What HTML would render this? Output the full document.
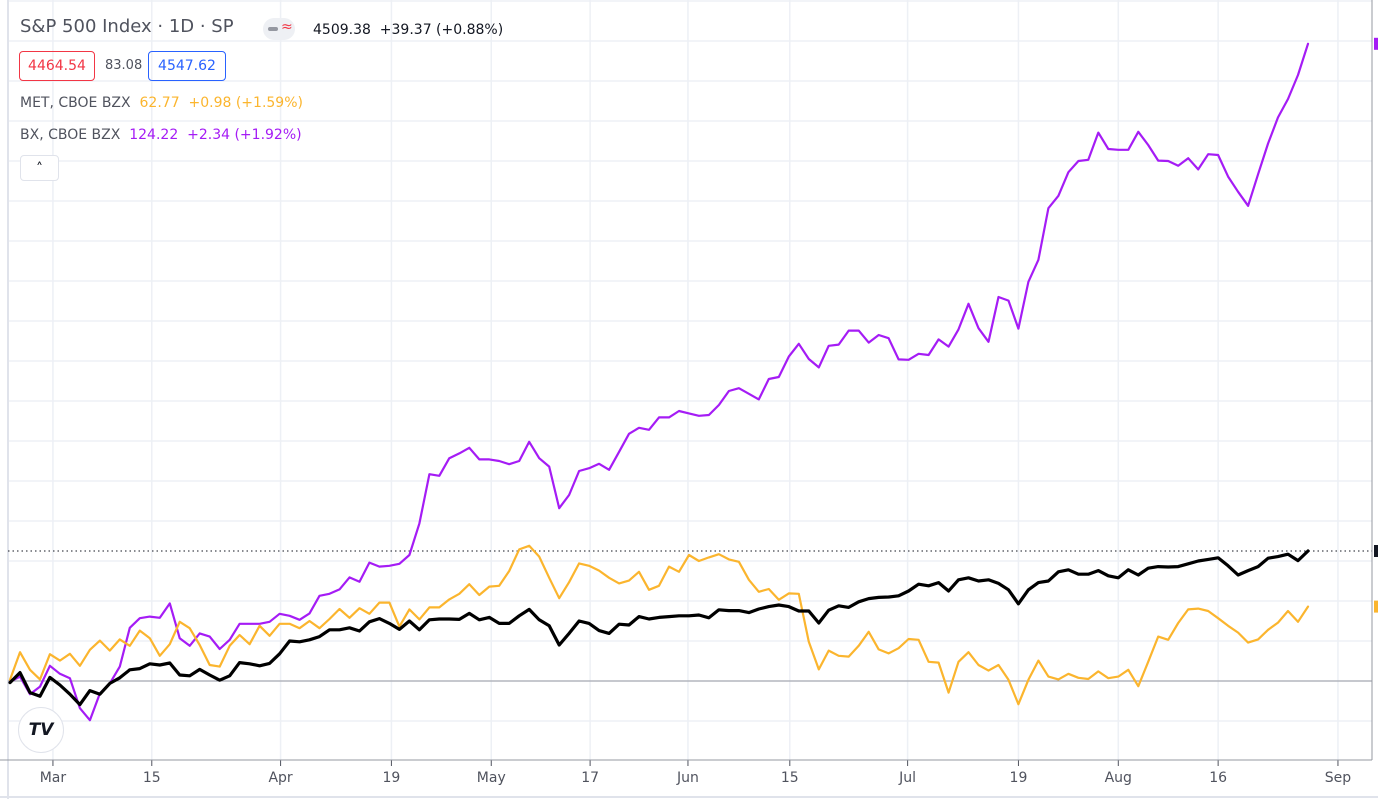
<!DOCTYPE html>
<html><head><meta charset="utf-8">
<style>
html,body{margin:0;padding:0;background:#fff;}
body{width:1378px;height:799px;overflow:hidden;position:relative;font-family:"DejaVu Sans","Liberation Sans",sans-serif;}
#chart{position:absolute;left:0;top:0;}
.legend{position:absolute;left:20px;color:#50535e;white-space:nowrap;}
</style></head>
<body>
<svg id="chart" width="1378" height="799"></svg>

<div class="legend" style="top:16px;font-size:18px;color:#50535e">S&amp;P 500 Index · 1D · SP</div>
<div style="position:absolute;left:263px;top:18px;width:32px;height:22px;border-radius:11px;background:#eef0f4">
  <div style="position:absolute;left:5px;top:9px;width:10px;height:4px;border-radius:2px;background:#9598a1"></div>
  <div style="position:absolute;left:18px;top:1px;font-size:14px;color:#f23645">≈</div>
</div>
<div style="position:absolute;left:313px;top:22px;font-size:14px;color:#131722;white-space:nowrap">4509.38&nbsp; +39.37 (+0.88%)</div>

<div style="position:absolute;left:19px;top:51px;width:74px;height:28px;border:1px solid #f23645;border-radius:4px;color:#f23645;font-size:14px;line-height:28px;text-align:center">4464.54</div>
<div style="position:absolute;left:105px;top:58px;font-size:13px;color:#50535e">83.08</div>
<div style="position:absolute;left:148px;top:51px;width:76px;height:28px;border:1px solid #2962ff;border-radius:4px;color:#2962ff;font-size:14px;line-height:28px;text-align:center">4547.62</div>

<div class="legend" style="top:95px;font-size:14px">MET, CBOE BZX&nbsp; <span style="color:#fbb52e">62.77&nbsp; +0.98 (+1.59%)</span></div>
<div class="legend" style="top:127px;font-size:14px">BX, CBOE BZX&nbsp; <span style="color:#a51cf5">124.22&nbsp; +2.34 (+1.92%)</span></div>
<div style="position:absolute;left:20px;top:155px;width:37px;height:24px;border:1px solid #e0e3eb;border-radius:4px;background:#fff;text-align:center;font-size:14px;line-height:26px;color:#131722">˄</div>

<div style="position:absolute;left:18px;top:707px;width:44px;height:44px;border-radius:50%;border:1px solid #e0e3eb;background:#fff;font-size:17px;font-weight:bold;line-height:44px;text-align:center;color:#131722;font-style:italic">TV</div>

<script>
const categoriesTickLabels = ["Mar","15","Apr","19","May","17","Jun","15","Jul","19","Aug","16","Sep"];
const tickIndex = [4.3,14.2,27.1,38.2,48.2,58.1,67.9,78.1,89.9,101.0,111.0,121.0,133.0];
const spxValues = [-0.4,2.1,-2.9,-3.8,0.9,-1.0,-3.3,-5.9,-2.4,-3.3,-0.6,0.8,2.8,3.1,4.3,4.0,4.5,1.5,1.3,2.9,1.5,0.2,1.3,4.6,4.3,3.8,4.4,6.8,10.0,9.8,10.3,11.1,12.8,12.8,13.3,12.5,14.8,15.6,14.4,12.9,15.0,12.8,15.3,15.5,15.5,15.4,16.9,15.3,15.9,14.4,14.4,16.3,17.9,15.3,13.8,9.0,11.9,15.0,14.4,12.6,11.9,14.2,14.0,16.1,15.5,15.9,16.1,16.3,16.3,16.5,15.8,17.8,17.6,17.6,17.1,18.0,18.6,19.0,18.6,17.5,17.5,14.5,17.7,18.8,18.4,19.8,20.6,20.9,21.0,21.3,22.5,24.2,23.8,24.6,22.5,25.3,25.8,25.0,25.3,24.4,22.8,19.3,22.8,24.6,25.0,27.3,27.8,26.7,26.7,27.6,26.3,25.8,27.8,26.5,28.2,28.6,28.5,28.6,29.3,30.0,30.4,30.8,28.8,26.5,27.6,28.6,30.7,31.1,31.7,30.1,32.5];
const metValues = [0.3,7.2,2.8,0.4,6.7,5.1,6.8,3.8,7.8,10.1,7.6,10.4,8.8,12.6,10.7,6.3,9.2,14.8,13.2,9.0,4.0,3.6,8.8,11.5,9.2,13.8,11.3,14.3,14.3,13.2,15.0,13.2,15.5,18.0,15.8,18.2,16.8,19.6,19.6,13.6,17.9,15.4,18.4,18.4,20.4,21.8,24.2,21.5,23.6,23.8,27.5,32.9,33.8,31.1,25.8,20.7,24.7,29.4,28.8,27.6,25.8,24.4,25.1,27.3,22.8,23.8,28.6,27.3,31.5,30.0,30.9,31.7,30.4,29.8,25.3,22.3,23.0,20.3,21.9,21.8,9.8,2.9,7.6,6.3,6.1,8.8,12.3,7.9,6.9,8.2,10.5,10.3,4.8,4.6,-2.9,4.8,7.2,4.0,2.6,4.0,0.3,-5.8,0.3,5.1,1.1,0.4,1.8,0.8,0.5,2.4,0.7,1.1,2.8,-1.3,4.8,11.1,10.3,14.5,17.9,18.1,17.5,15.7,13.8,12.1,9.6,10.4,12.8,14.6,17.5,14.8,18.6];
const bxValues = [-0.2,1.1,-3.3,-1.4,3.8,1.8,0.7,-6.8,-9.8,-3.1,-0.6,3.6,13.3,15.7,16.1,15.8,19.4,10.7,8.8,11.9,11.1,8.0,10.3,14.3,14.3,14.3,14.8,16.8,16.3,15.3,16.9,21.3,21.8,22.9,25.9,24.8,29.6,28.6,28.8,29.3,31.5,39.4,51.7,51.3,55.7,56.9,58.3,55.4,55.4,55.0,54.2,55.0,59.8,55.7,53.6,43.2,46.5,52.5,53.2,54.3,52.8,57.3,61.8,63.3,62.8,65.9,65.9,67.5,66.9,66.3,66.5,69.0,72.5,73.2,71.8,70.4,75.5,76.0,81.1,84.3,80.5,78.4,83.8,84.1,87.6,87.6,84.6,86.5,85.7,80.4,80.3,81.8,81.5,85.4,83.6,87.9,94.3,88.2,84.8,96.0,95.1,88.1,99.8,105.3,118.2,121.3,127.2,130.0,130.3,137.1,133.0,132.8,132.8,137.3,134.0,130.1,130.0,128.8,130.7,127.9,131.7,131.5,126.1,122.3,118.8,126.7,134.4,140.9,145.5,151.5,159.3];

const NS="http://www.w3.org/2000/svg";
const svg=document.getElementById('chart');
const X0=10, X1=1308, NMAX=130;
function xScale(i){return X0+(X1-X0)*i/NMAX;}
function yScale(v){return 681-v*4;}
function mk(tag,attrs){const e=document.createElementNS(NS,tag);for(const k in attrs)e.setAttribute(k,attrs[k]);svg.appendChild(e);return e;}

for(let k=-1;k<=17;k++){
  const y=681-40*k;
  if(y<0||y>760)continue;
  const g=mk('line',{x1:8,x2:1372,y1:y,y2:y,stroke:'#edf0f5','stroke-width':1.5});
  
  
}
tickIndex.forEach((ti,j)=>{
  const x=xScale(ti);
  const g=mk('line',{x1:x,x2:x,y1:0,y2:760,stroke:'#edf0f5','stroke-width':1.5});
  
  
  const t=mk('line',{x1:x,x2:x,y1:760,y2:766,stroke:'#50535e','stroke-width':1});
  
  
  const l=mk('text',{x:x,y:782,'text-anchor':'middle','font-size':14,fill:'#50535e','font-family':'DejaVu Sans, Liberation Sans, sans-serif'});
  l.textContent=categoriesTickLabels[j];
  
  
});
let e;
e=mk('line',{x1:8,x2:8,y1:0,y2:799,stroke:'#e0e3eb','stroke-width':2});


e=mk('line',{x1:0,x2:1372,y1:760,y2:760,stroke:'#9598a1','stroke-width':1});


e=mk('line',{x1:1372,x2:1372,y1:0,y2:760,stroke:'#9598a1','stroke-width':1});


e=mk('line',{x1:0,x2:1378,y1:797,y2:797,stroke:'#e0e3eb','stroke-width':2});


e=mk('line',{x1:8,x2:1372,y1:yScale(0),y2:yScale(0),stroke:'#9598a1','stroke-width':1});


const lastSpx=spxValues[spxValues.length-1];
e=mk('line',{x1:8,x2:1372,y1:yScale(lastSpx),y2:yScale(lastSpx),stroke:'#131722','stroke-width':1,'stroke-dasharray':'1.5,3'});



function series(vals,color,w,name){
  const d=vals.map((v,i)=>(i?'L':'M')+xScale(i).toFixed(1)+','+yScale(v).toFixed(1)).join('');
  const p=mk('path',{d:d,fill:'none',stroke:color,'stroke-width':w,'stroke-linejoin':'round','stroke-linecap':'round'});
  
  
}
series(bxValues,'#a51cf5',2.2,'bx-line');
series(metValues,'#fbb52e',2.2,'met-line');
series(spxValues,'#000000',3.2,'spx-line');

e=mk('rect',{x:1374,y:yScale(metValues[metValues.length-1])-6,width:4,height:12,fill:'#fbb52e'});


e=mk('rect',{x:1374,y:yScale(bxValues[bxValues.length-1])-6,width:4,height:12,fill:'#a51cf5'});


e=mk('rect',{x:1374,y:yScale(lastSpx)-6,width:4,height:12,fill:'#131722'});


</script>
</body></html>
